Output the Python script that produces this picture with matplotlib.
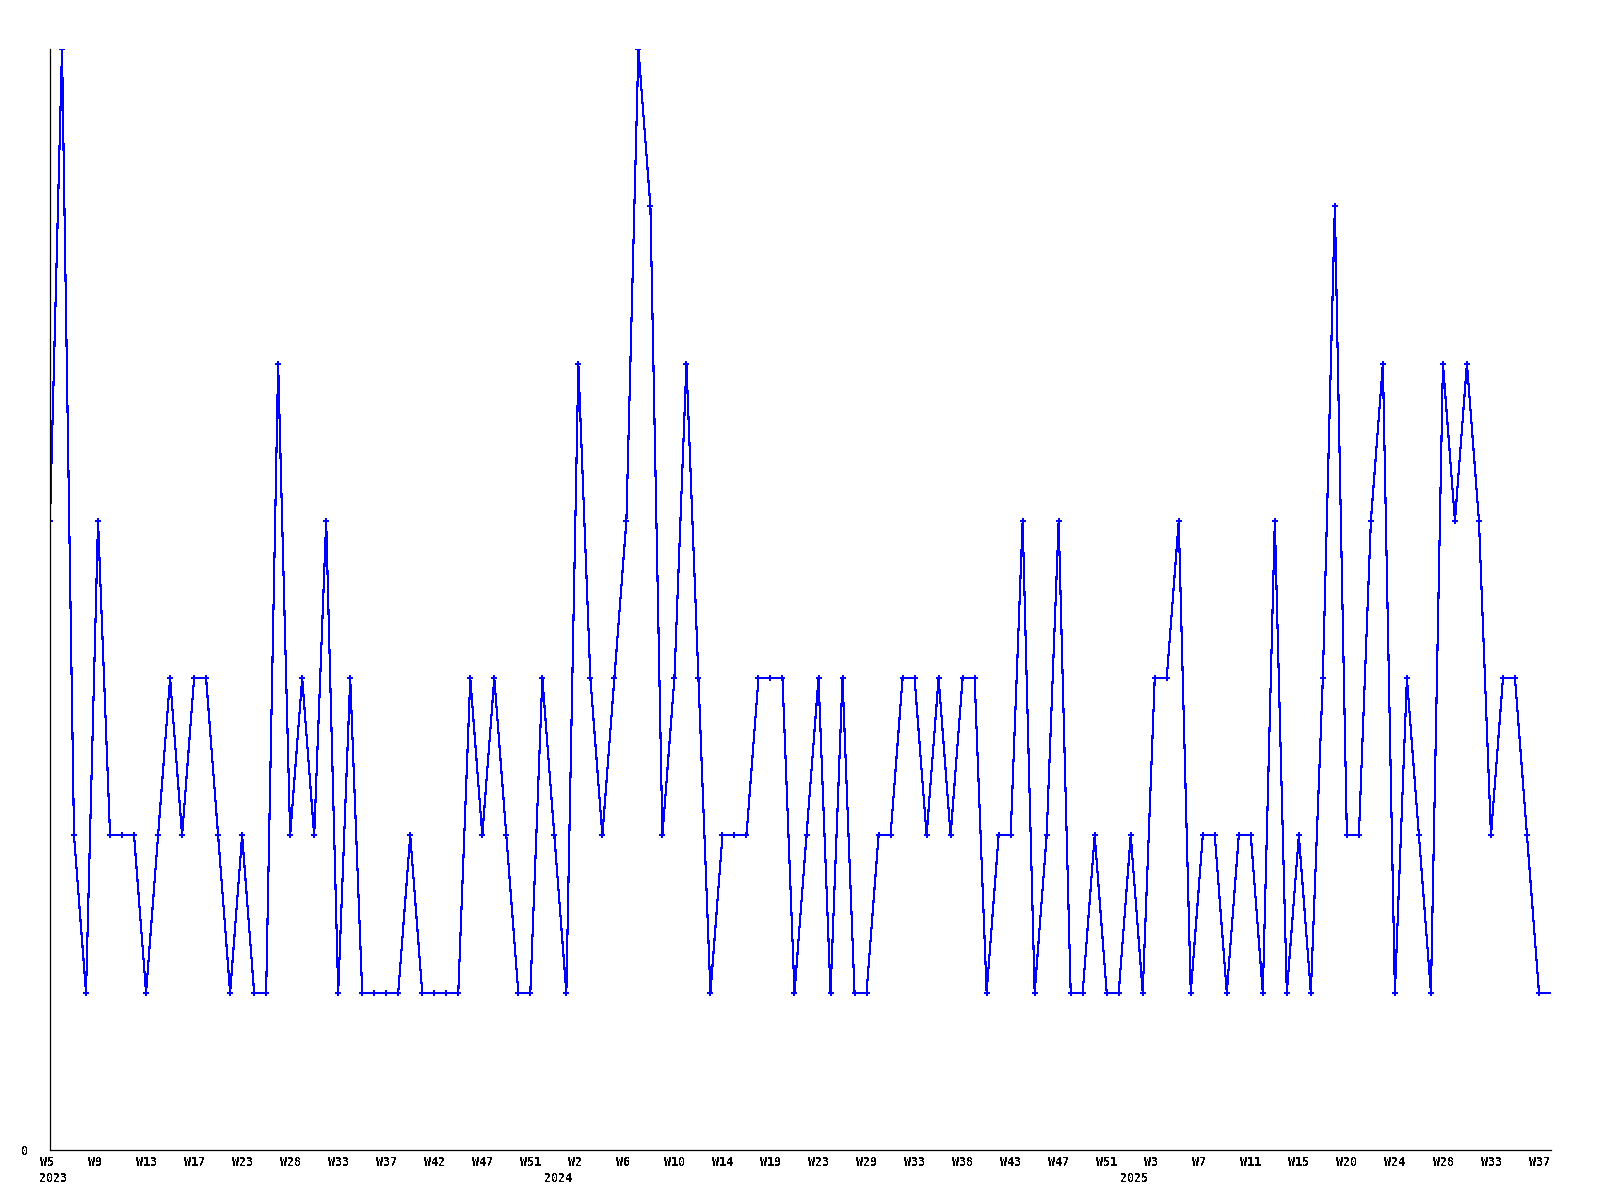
import numpy as np
import matplotlib
matplotlib.use("Agg")
import matplotlib.pyplot as plt

# weekly counts, one value per plotted week (2023 W5 .. 2025 W37)
counts = [4, 7, 2, 1, 4, 2, 2, 2, 1, 2, 3, 2, 3, 3, 2, 1, 2, 1, 1, 5,
          2, 3, 2, 4, 1, 3, 1, 1, 1, 1, 2, 1, 1, 1, 1, 3, 2, 3, 2, 1,
          1, 3, 2, 1, 5, 3, 2, 3, 4, 7, 6, 2, 3, 5, 3, 1, 2, 2, 2, 3,
          3, 3, 1, 2, 3, 1, 3, 1, 1, 2, 2, 3, 3, 2, 3, 2, 3, 3, 1, 2,
          2, 4, 1, 2, 4, 1, 1, 2, 1, 1, 2, 1, 3, 3, 4, 1, 2, 2, 1, 2,
          2, 1, 4, 1, 2, 1, 3, 6, 2, 2, 4, 5, 1, 3, 2, 1, 5, 4, 5, 4,
          2, 3, 3, 2, 1]

# one label every 4th point
week_labels = ["W5", "W9", "W13", "W17", "W23", "W28", "W33", "W37", "W42", "W47", "W51",
               "W2", "W6", "W10", "W14", "W19", "W23", "W29", "W33", "W38", "W43", "W47",
               "W51", "W3", "W7", "W11", "W15", "W20", "W24", "W28", "W33", "W37"]
year_labels = ["2023", "2024", "2025"]
year_idx = [0, 42, 90]

plt.rcParams["text.antialiased"] = False
lab_font = dict(family="DejaVu Sans Mono", weight="bold", size=8.4)

fig = plt.figure(figsize=(16, 12), dpi=100)
ax = fig.add_axes([50 / 1600, 50 / 1200, 1501 / 1600, 1101 / 1200])

n = len(counts)
xs = np.arange(n + 1)
ys = counts + [counts[-1]]  # line carries on to the right edge
ax.plot(xs, ys, color="#0000ff", linewidth=0.8, antialiased=False,
        marker="P", markersize=4.6, markeredgewidth=0,
        markevery=list(range(n)))

ax.spines["top"].set_visible(False)
ax.spines["right"].set_visible(False)
ax.spines["left"].set_linewidth(0.9)
ax.spines["bottom"].set_linewidth(0.9)

ax.set_yticks([0])
ax.set_yticklabels(["0"], **lab_font)
ax.tick_params(axis="y", length=0, pad=16)
ax.set_xticks([])

ax.set_xlim(0, n)
ax.set_ylim(0, max(counts))

tick_idx = np.arange(0, n, 4)
for wk, xp in zip(week_labels, tick_idx):
    ax.annotate(wk, xy=(xp, 0), xycoords=("data", "axes fraction"),
                xytext=(-7.5, -4.5), textcoords="offset points",
                ha="left", va="top", annotation_clip=False, **lab_font)

for yr, xp in zip(year_labels, year_idx):
    ax.annotate(yr, xy=(xp, 0), xycoords=("data", "axes fraction"),
                xytext=(-7.5, -15.5), textcoords="offset points",
                ha="left", va="top", annotation_clip=False, **lab_font)

fig.savefig("out.png", dpi=100)
